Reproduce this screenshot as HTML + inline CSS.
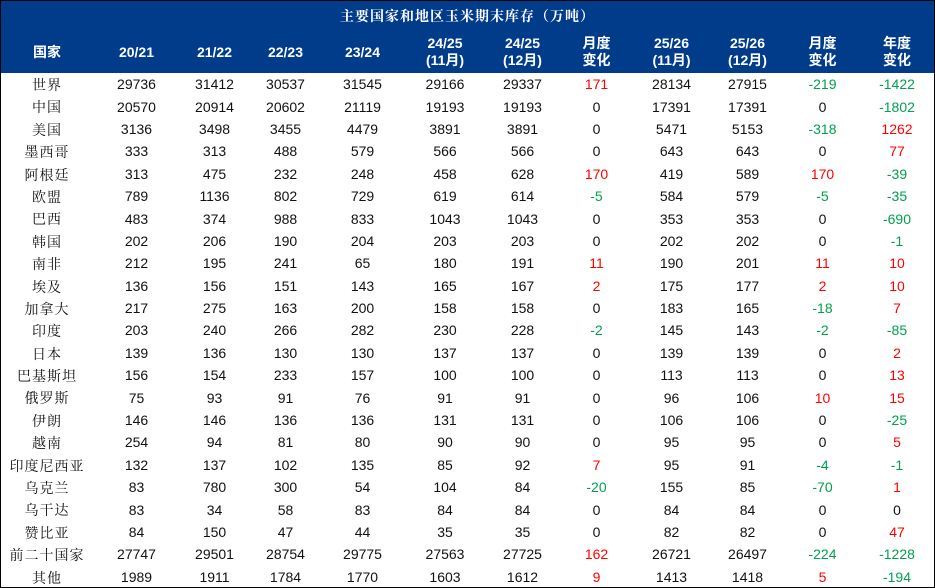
<!DOCTYPE html>
<html><head><meta charset="utf-8"><style>
html,body{margin:0;padding:0;background:#fff}
.wrap{position:relative;width:935px;height:588px;overflow:hidden}
.bd{position:absolute;left:0;top:0;width:933px;height:586px;border:1px solid #000;pointer-events:none}
table{border-collapse:collapse;table-layout:fixed;width:935px;font-family:"Liberation Sans","Noto Sans CJK SC",sans-serif;font-size:14px;color:#111}
td{padding:0;text-align:center;white-space:nowrap;overflow:hidden}
tr.t td{background:#003C8A;color:#fff;font-weight:bold;height:31px;font-family:"Liberation Serif","Noto Serif CJK SC",serif;font-size:14px;letter-spacing:1px}
tr.h td{background:#003C8A;color:#fff;font-weight:bold;height:42px;line-height:17px;font-size:14px}
tr.d td{height:22.4px;line-height:22px}
tr.d td:first-child{font-family:"Liberation Serif","Noto Serif CJK SC",serif;letter-spacing:1px;padding-top:5px;line-height:17px;height:17.4px;vertical-align:top}
.r{color:#f00}.g{color:#00a050}
</style></head><body><div class="wrap">
<table>
<colgroup><col style="width:94px"><col style="width:85px"><col style="width:71px"><col style="width:71px"><col style="width:83px"><col style="width:82px"><col style="width:73px"><col style="width:75px"><col style="width:75px"><col style="width:77px"><col style="width:73px"><col style="width:76px"></colgroup>
<tr class="t"><td colspan="12">主要国家和地区玉米期末库存（万吨）</td></tr>
<tr class="h"><td>国家</td><td>20/21</td><td>21/22</td><td>22/23</td><td>23/24</td><td>24/25<br>(11月)</td><td>24/25<br>(12月)</td><td>月度<br>变化</td><td>25/26<br>(11月)</td><td>25/26<br>(12月)</td><td>月度<br>变化</td><td>年度<br>变化</td></tr>
<tr class="d"><td>世界</td><td>29736</td><td>31412</td><td>30537</td><td>31545</td><td>29166</td><td>29337</td><td class="r">171</td><td>28134</td><td>27915</td><td class="g">-219</td><td class="g">-1422</td></tr>
<tr class="d"><td>中国</td><td>20570</td><td>20914</td><td>20602</td><td>21119</td><td>19193</td><td>19193</td><td>0</td><td>17391</td><td>17391</td><td>0</td><td class="g">-1802</td></tr>
<tr class="d"><td>美国</td><td>3136</td><td>3498</td><td>3455</td><td>4479</td><td>3891</td><td>3891</td><td>0</td><td>5471</td><td>5153</td><td class="g">-318</td><td class="r">1262</td></tr>
<tr class="d"><td>墨西哥</td><td>333</td><td>313</td><td>488</td><td>579</td><td>566</td><td>566</td><td>0</td><td>643</td><td>643</td><td>0</td><td class="r">77</td></tr>
<tr class="d"><td>阿根廷</td><td>313</td><td>475</td><td>232</td><td>248</td><td>458</td><td>628</td><td class="r">170</td><td>419</td><td>589</td><td class="r">170</td><td class="g">-39</td></tr>
<tr class="d"><td>欧盟</td><td>789</td><td>1136</td><td>802</td><td>729</td><td>619</td><td>614</td><td class="g">-5</td><td>584</td><td>579</td><td class="g">-5</td><td class="g">-35</td></tr>
<tr class="d"><td>巴西</td><td>483</td><td>374</td><td>988</td><td>833</td><td>1043</td><td>1043</td><td>0</td><td>353</td><td>353</td><td>0</td><td class="g">-690</td></tr>
<tr class="d"><td>韩国</td><td>202</td><td>206</td><td>190</td><td>204</td><td>203</td><td>203</td><td>0</td><td>202</td><td>202</td><td>0</td><td class="g">-1</td></tr>
<tr class="d"><td>南非</td><td>212</td><td>195</td><td>241</td><td>65</td><td>180</td><td>191</td><td class="r">11</td><td>190</td><td>201</td><td class="r">11</td><td class="r">10</td></tr>
<tr class="d"><td>埃及</td><td>136</td><td>156</td><td>151</td><td>143</td><td>165</td><td>167</td><td class="r">2</td><td>175</td><td>177</td><td class="r">2</td><td class="r">10</td></tr>
<tr class="d"><td>加拿大</td><td>217</td><td>275</td><td>163</td><td>200</td><td>158</td><td>158</td><td>0</td><td>183</td><td>165</td><td class="g">-18</td><td class="r">7</td></tr>
<tr class="d"><td>印度</td><td>203</td><td>240</td><td>266</td><td>282</td><td>230</td><td>228</td><td class="g">-2</td><td>145</td><td>143</td><td class="g">-2</td><td class="g">-85</td></tr>
<tr class="d"><td>日本</td><td>139</td><td>136</td><td>130</td><td>130</td><td>137</td><td>137</td><td>0</td><td>139</td><td>139</td><td>0</td><td class="r">2</td></tr>
<tr class="d"><td>巴基斯坦</td><td>156</td><td>154</td><td>233</td><td>157</td><td>100</td><td>100</td><td>0</td><td>113</td><td>113</td><td>0</td><td class="r">13</td></tr>
<tr class="d"><td>俄罗斯</td><td>75</td><td>93</td><td>91</td><td>76</td><td>91</td><td>91</td><td>0</td><td>96</td><td>106</td><td class="r">10</td><td class="r">15</td></tr>
<tr class="d"><td>伊朗</td><td>146</td><td>146</td><td>136</td><td>136</td><td>131</td><td>131</td><td>0</td><td>106</td><td>106</td><td>0</td><td class="g">-25</td></tr>
<tr class="d"><td>越南</td><td>254</td><td>94</td><td>81</td><td>80</td><td>90</td><td>90</td><td>0</td><td>95</td><td>95</td><td>0</td><td class="r">5</td></tr>
<tr class="d"><td>印度尼西亚</td><td>132</td><td>137</td><td>102</td><td>135</td><td>85</td><td>92</td><td class="r">7</td><td>95</td><td>91</td><td class="g">-4</td><td class="g">-1</td></tr>
<tr class="d"><td>乌克兰</td><td>83</td><td>780</td><td>300</td><td>54</td><td>104</td><td>84</td><td class="g">-20</td><td>155</td><td>85</td><td class="g">-70</td><td class="r">1</td></tr>
<tr class="d"><td>乌干达</td><td>83</td><td>34</td><td>58</td><td>83</td><td>84</td><td>84</td><td>0</td><td>84</td><td>84</td><td>0</td><td>0</td></tr>
<tr class="d"><td>赞比亚</td><td>84</td><td>150</td><td>47</td><td>44</td><td>35</td><td>35</td><td>0</td><td>82</td><td>82</td><td>0</td><td class="r">47</td></tr>
<tr class="d"><td>前二十国家</td><td>27747</td><td>29501</td><td>28754</td><td>29775</td><td>27563</td><td>27725</td><td class="r">162</td><td>26721</td><td>26497</td><td class="g">-224</td><td class="g">-1228</td></tr>
<tr class="d"><td>其他</td><td>1989</td><td>1911</td><td>1784</td><td>1770</td><td>1603</td><td>1612</td><td class="r">9</td><td>1413</td><td>1418</td><td class="r">5</td><td class="g">-194</td></tr>
</table>
<div class="bd"></div>
</div></body></html>
